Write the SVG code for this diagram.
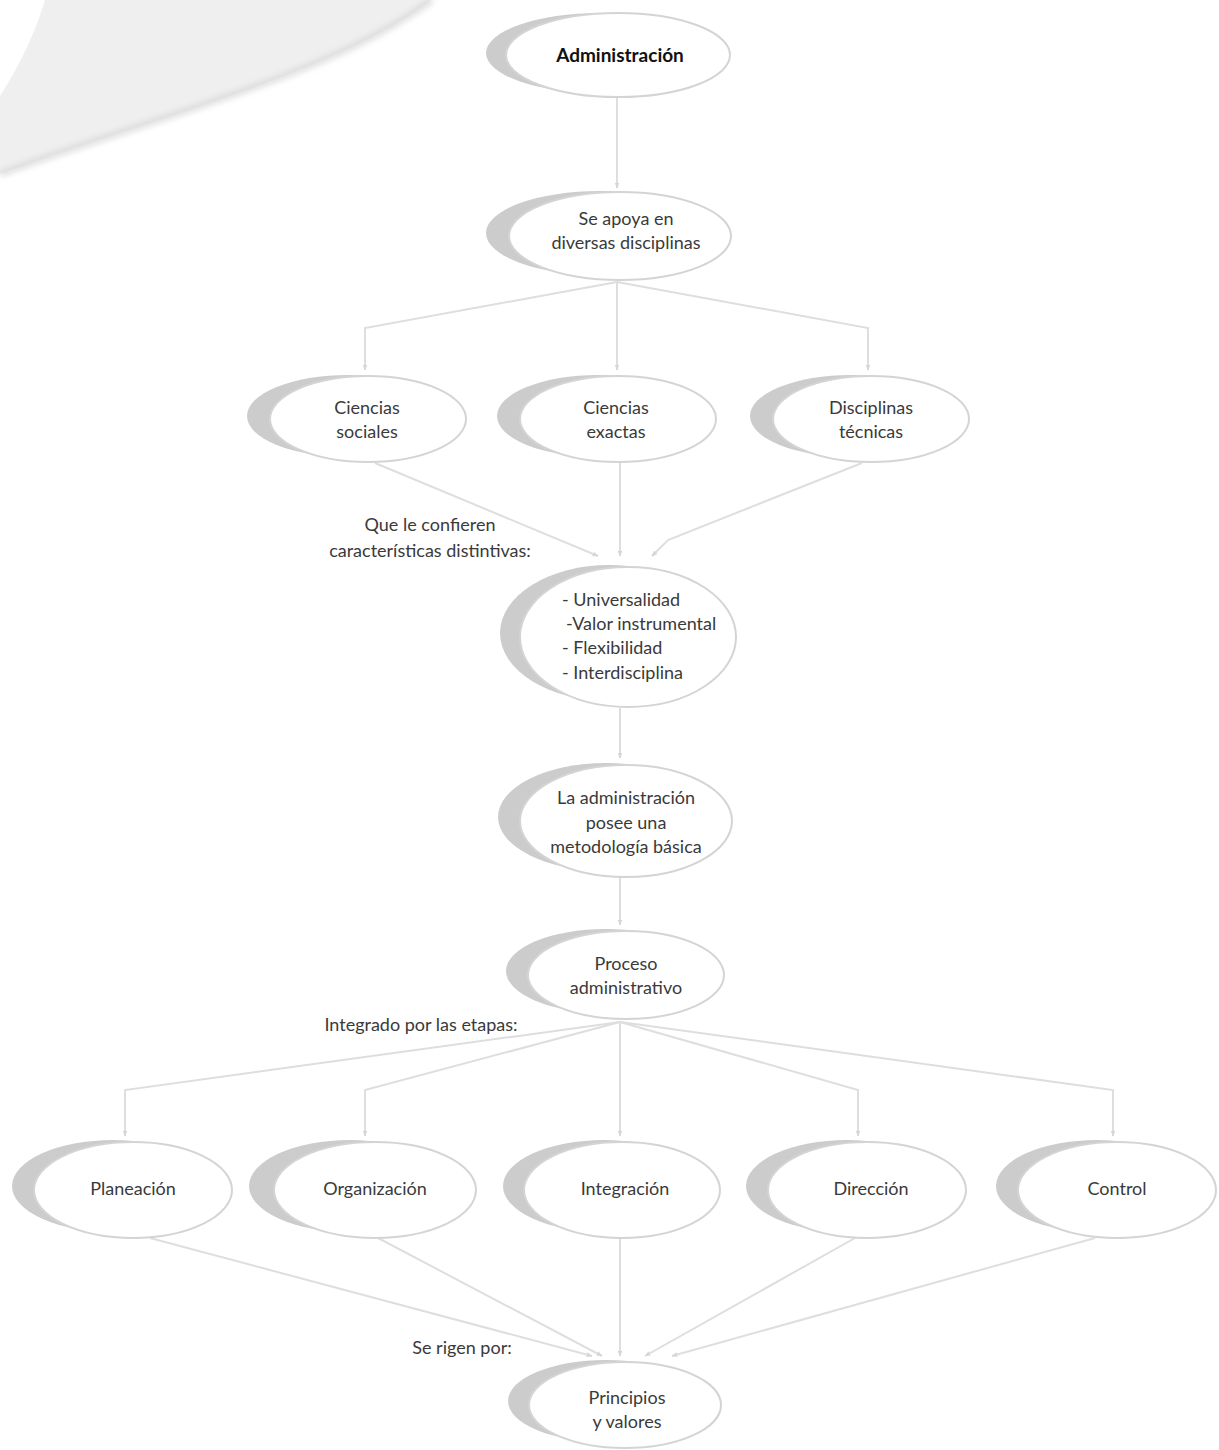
<svg xmlns="http://www.w3.org/2000/svg" width="1219" height="1450" viewBox="0 0 1219 1450">
<defs>
<style>
.sh{fill:#cccccc}
.wh{fill:#ffffff;stroke:#d4d4d4;stroke-width:2}
.t{font-family:Lato,"Liberation Sans",sans-serif;font-size:18px;fill:#3a3a3a;text-anchor:middle}
.tl{font-family:Lato,"Liberation Sans",sans-serif;font-size:18px;fill:#3a3a3a}
.b{font-family:Lato,"Liberation Sans",sans-serif;font-size:19px;font-weight:bold;fill:#111;text-anchor:middle}
.c{fill:none;stroke:#dedede;stroke-width:2;marker-end:url(#ah)}
</style>
<marker id="ah" viewBox="0 0 10 10" refX="9" refY="5" markerWidth="6" markerHeight="6" orient="auto-start-reverse" markerUnits="userSpaceOnUse" >
<path d="M0,1 L10,5 L0,9 Z" fill="#d6d6d6"/>
</marker>
<filter id="blur" x="-10%" y="-10%" width="120%" height="120%"><feGaussianBlur stdDeviation="3"/></filter>
</defs>
<rect width="1219" height="1450" fill="#ffffff"/>
<g id="swoosh">
<path d="M45,0 L432,0 C330,75 170,112 0,174 L0,96 C22,62 36,30 45,0 Z" fill="#efefef"/>
<path d="M432,0 C330,75 170,112 0,174" fill="none" stroke="#d6d6d6" stroke-width="5" filter="url(#blur)"/>
</g>
<g id="connectors">
<path class="c" d="M617,98 L617,188"/>
<path class="c" d="M617,282 L365,328 L365,370"/>
<path class="c" d="M617,282 L617,370"/>
<path class="c" d="M617,282 L868,328 L868,370"/>
<path class="c" d="M375,463 L598,556"/>
<path class="c" d="M620,463 L620,556"/>
<path class="c" d="M862,463 L668,540 L652,556"/>
<path class="c" d="M620,708 L620,758"/>
<path class="c" d="M620,877 L620,925"/>
<path class="c" d="M620,1022 L125,1090 L125,1136"/>
<path class="c" d="M620,1022 L365,1090 L365,1136"/>
<path class="c" d="M620,1022 L620,1136"/>
<path class="c" d="M620,1022 L858,1090 L858,1136"/>
<path class="c" d="M620,1022 L1113,1090 L1113,1136"/>
<path class="c" d="M150,1238 L592,1356"/>
<path class="c" d="M378,1238 L602,1356"/>
<path class="c" d="M620,1238 L620,1356"/>
<path class="c" d="M855,1238 L645,1356"/>
<path class="c" d="M1095,1238 L672,1356"/>
</g>
<g id="n-administracion">
<ellipse class="sh" cx="600" cy="53" rx="114" ry="40"/>
<ellipse class="wh" cx="618" cy="55" rx="112" ry="42"/>
<text class="b" x="620" y="62">Administración</text>
</g>
<g id="n-apoya">
<ellipse class="sh" cx="600" cy="233" rx="114" ry="42"/>
<ellipse class="wh" cx="620" cy="236" rx="111" ry="44"/>
<text class="t" x="626" y="225">Se apoya en</text>
<text class="t" x="626" y="249">diversas disciplinas</text>
</g>
<g id="n-sociales">
<ellipse class="sh" cx="348" cy="416" rx="101" ry="41"/>
<ellipse class="wh" cx="368" cy="419" rx="98" ry="43"/>
<text class="t" x="367" y="414">Ciencias</text>
<text class="t" x="367" y="438">sociales</text>
</g>
<g id="n-exactas">
<ellipse class="sh" cx="598" cy="416" rx="101" ry="41"/>
<ellipse class="wh" cx="618" cy="419" rx="98" ry="43"/>
<text class="t" x="616" y="414">Ciencias</text>
<text class="t" x="616" y="438">exactas</text>
</g>
<g id="n-tecnicas">
<ellipse class="sh" cx="851" cy="416" rx="101" ry="41"/>
<ellipse class="wh" cx="871" cy="419" rx="98" ry="43"/>
<text class="t" x="871" y="414">Disciplinas</text>
<text class="t" x="871" y="438">técnicas</text>
</g>
<g id="l-confieren">
<text class="t" x="430" y="531">Que le confieren</text>
<text class="t" x="430" y="557">características distintivas:</text>
</g>
<g id="n-caracteristicas">
<ellipse class="sh" cx="609" cy="633" rx="109" ry="68"/>
<ellipse class="wh" cx="628" cy="637" rx="108" ry="70"/>
<text class="tl" x="562" y="606">- Universalidad</text>
<text class="tl" x="566" y="630">-Valor instrumental</text>
<text class="tl" x="562" y="654">- Flexibilidad</text>
<text class="tl" x="562" y="679">- Interdisciplina</text>
</g>
<g id="n-metodologia">
<ellipse class="sh" cx="606" cy="817" rx="108" ry="54"/>
<ellipse class="wh" cx="626" cy="821" rx="106" ry="56"/>
<text class="t" x="626" y="804">La administración</text>
<text class="t" x="626" y="829">posee una</text>
<text class="t" x="626" y="853">metodología básica</text>
</g>
<g id="n-proceso">
<ellipse class="sh" cx="606" cy="971" rx="100" ry="42"/>
<ellipse class="wh" cx="626" cy="975" rx="98" ry="44"/>
<text class="t" x="626" y="970">Proceso</text>
<text class="t" x="626" y="994">administrativo</text>
</g>
<g id="l-integrado">
<text class="t" x="421" y="1031">Integrado por las etapas:</text>
</g>
<g id="n-planeacion">
<ellipse class="sh" cx="113" cy="1186" rx="101" ry="46"/>
<ellipse class="wh" cx="133" cy="1190" rx="99" ry="48"/>
<text class="t" x="133" y="1195">Planeación</text>
</g>
<g id="n-organizacion">
<ellipse class="sh" cx="350" cy="1186" rx="101" ry="46"/>
<ellipse class="wh" cx="375" cy="1190" rx="101" ry="48"/>
<text class="t" x="375" y="1195">Organización</text>
</g>
<g id="n-integracion">
<ellipse class="sh" cx="604" cy="1186" rx="101" ry="46"/>
<ellipse class="wh" cx="622" cy="1190" rx="98" ry="48"/>
<text class="t" x="625" y="1195">Integración</text>
</g>
<g id="n-direccion">
<ellipse class="sh" cx="847" cy="1186" rx="101" ry="46"/>
<ellipse class="wh" cx="867" cy="1190" rx="99" ry="48"/>
<text class="t" x="871" y="1195">Dirección</text>
</g>
<g id="n-control">
<ellipse class="sh" cx="1097" cy="1186" rx="101" ry="46"/>
<ellipse class="wh" cx="1117" cy="1190" rx="99" ry="48"/>
<text class="t" x="1117" y="1195">Control</text>
</g>
<g id="l-rigen">
<text class="t" x="462" y="1354">Se rigen por:</text>
</g>
<g id="n-principios">
<ellipse class="sh" cx="606" cy="1401" rx="98" ry="41"/>
<ellipse class="wh" cx="625" cy="1405" rx="96" ry="43"/>
<text class="t" x="627" y="1404">Principios</text>
<text class="t" x="627" y="1428">y valores</text>
</g>
</svg>
